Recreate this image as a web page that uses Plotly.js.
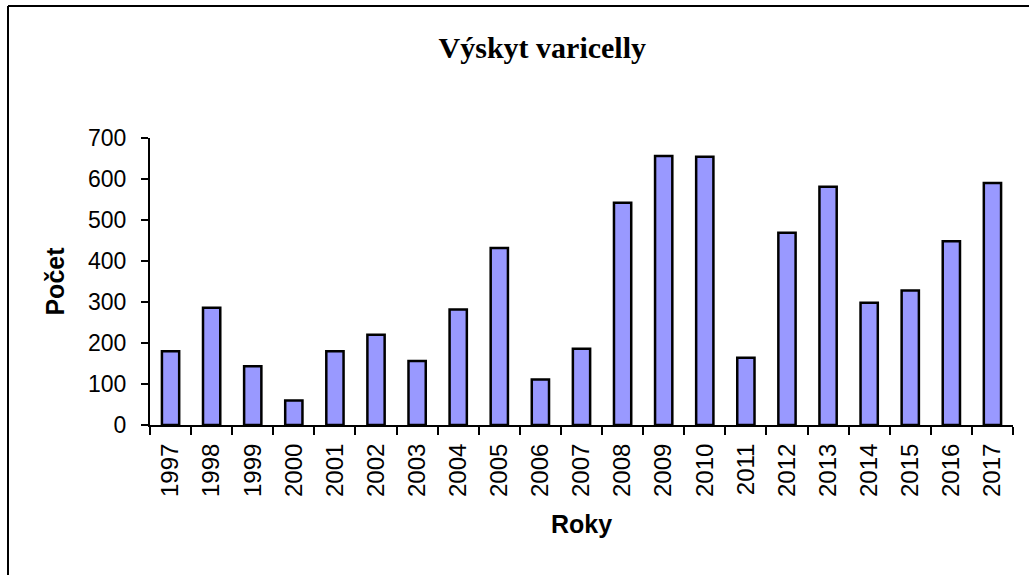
<!DOCTYPE html>
<html>
<head>
<meta charset="utf-8">
<script src="https://cdn.plot.ly/plotly-3.0.1.min.js"></script>
<style>
  html, body { margin: 0; padding: 0; background: #ffffff; }
  #chart { width: 1029px; height: 575px; }
</style>
</head>
<body>
<div id="chart"></div>
<script>
// Data
const years = ["1997","1998","1999","2000","2001","2002","2003","2004","2005","2006","2007",
               "2008","2009","2010","2011","2012","2013","2014","2015","2016","2017"];
const counts = [180, 286, 143, 60, 180, 220, 156, 282, 432, 111, 186,
                542, 656, 654, 164, 469, 581, 298, 328, 448, 590];

const chartTitle = "Výskyt varicelly";
const xTitle = "Roky";
const yTitle = "Počet";

const trace = {
  type: "bar",
  x: years,
  y: counts,
  marker: {
    color: "#9999FF",
    line: { color: "#000000", width: 2.5 }
  },
  hoverinfo: "x+y"
};

const layout = {
  width: 1029,
  height: 575,
  paper_bgcolor: "#ffffff",
  plot_bgcolor: "#ffffff",
  margin: { l: 150, r: 16, t: 138, b: 150 },
  bargap: 0.58,
  showlegend: false,
  title: {
    text: chartTitle,
    font: { family: "Liberation Serif, Times New Roman, serif", size: 30, color: "#000000", weight: "bold" },
    xref: "container", x: 0.527, xanchor: "center",
    yref: "container", y: 0.918, yanchor: "middle"
  },
  xaxis: {
    type: "category",
    tickson: "boundaries",
    ticks: "outside",
    ticklen: 8,
    tickwidth: 1.5,
    tickcolor: "#000000",
    tickangle: -90,
    ticklabelstandoff: 7,
    tickfont: { family: "Liberation Sans, Arial, sans-serif", size: 24, color: "#000000" },
    showline: true,
    linecolor: "#000000",
    linewidth: 2,
    showgrid: false,
    zeroline: false,
    title: {
      text: xTitle,
      font: { family: "Liberation Sans, Arial, sans-serif", size: 25, color: "#000000", weight: "bold" },
      standoff: 20
    }
  },
  yaxis: {
    range: [0, 700],
    dtick: 100,
    tick0: 0,
    ticks: "outside",
    ticklen: 7,
    tickwidth: 2,
    tickcolor: "#000000",
    ticklabelstandoff: 10,
    tickfont: { family: "Liberation Sans, Arial, sans-serif", size: 23, color: "#000000" },
    showline: true,
    linecolor: "#000000",
    linewidth: 2,
    showgrid: false,
    zeroline: false,
    title: {
      text: yTitle,
      font: { family: "Liberation Sans, Arial, sans-serif", size: 25, color: "#000000", weight: "bold" },
      standoff: 16
    }
  },
  shapes: [
    { type: "line", xref: "paper", yref: "paper",
      x0: (8 - 150) / 863, x1: (1029 - 150) / 863,
      y0: (425 - 6) / 287, y1: (425 - 6) / 287,
      line: { color: "#000000", width: 2 } },
    { type: "line", xref: "paper", yref: "paper",
      x0: (8 - 150) / 863, x1: (8 - 150) / 863,
      y0: (425 - 6) / 287, y1: (425 - 580) / 287,
      line: { color: "#000000", width: 2 } }
  ]
};

Plotly.newPlot("chart", [trace], layout, { displayModeBar: false, responsive: false });
</script>
</body>
</html>
